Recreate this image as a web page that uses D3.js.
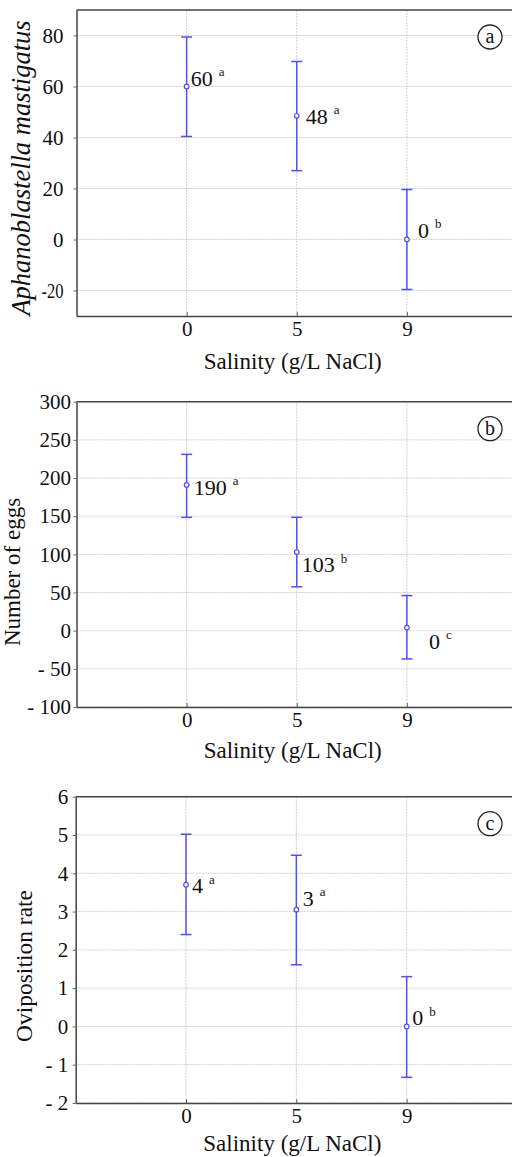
<!DOCTYPE html>
<html>
<head>
<meta charset="utf-8">
<script src="https://cdn.jsdelivr.net/npm/d3@7"></script>
</head>
<body style="margin:0">
<svg id="chart"></svg>
<script>
var salinity = ['0', '5', '9'];

// (a) Aphanoblastella mastigatus
var parasitoidMean = [60, 48.5, 0];
var parasitoidUpper = [79.4, 69.8, 19.6];
var parasitoidLower = [40.4, 27, -19.6];
var parasitoidLabel = ['60', '48', '0'];
var parasitoidGroup = ['a', 'a', 'b'];
var parasitoidTicks = [-20, 0, 20, 40, 60, 80];

// (b) number of eggs
var eggMean = [191, 103, 4];
var eggUpper = [231, 148.5, 46];
var eggLower = [148.5, 57.5, -37];
var eggLabel = ['190', '103', '0'];
var eggGroup = ['a', 'b', 'c'];
var eggTicks = [-100, -50, 0, 50, 100, 150, 200, 250, 300];

// (c) oviposition rate
var rateMean = [3.7, 3.05, 0];
var rateUpper = [5.02, 4.47, 1.3];
var rateLower = [2.4, 1.61, -1.33];
var rateLabel = ['4', '3', '0'];
var rateGroup = ['a', 'a', 'b'];
var rateTicks = [-2, -1, 0, 1, 2, 3, 4, 5, 6];

var blue = '#4f4fff';
var face = 'Liberation Serif';
var svg = d3.select('#chart').attr('width', 512).attr('height', 1157).style('font-family', face);

var spacedMinus = function(d) { return d < 0 ? '- ' + (-d) : String(d); };

var drawPanel = function(p) {
    var x = d3.scalePoint().domain(salinity).range([p.left, 517]).padding(1);
    var y = d3.scaleLinear().domain(p.domain).range([p.bottom, p.top]);
    var g = svg.append('g');

    g.selectAll('.hgrid').data(p.ticks.filter(function(t) { return y(t) > p.top + 1; })).enter().append('line')
        .attr('x1', p.left).attr('x2', 517).attr('y1', function(d) { return y(d); }).attr('y2', function(d) { return y(d); })
        .style('stroke', '#cfcfcf').style('stroke-dasharray', '2,1');
    g.selectAll('.vgrid').data(salinity).enter().append('line')
        .attr('x1', function(d) { return x(d); }).attr('x2', function(d) { return x(d); })
        .attr('y1', p.top).attr('y2', p.bottom)
        .style('stroke', '#cfcfcf').style('stroke-dasharray', '2,1');

    var ya = g.append('g').attr('transform', 'translate(' + p.left + ',0)')
        .call(d3.axisLeft(y).tickValues(p.ticks).tickFormat(p.fmt).tickSize(3).tickSizeOuter(0).tickPadding(p.tickPad));
    var xa = g.append('g').attr('transform', 'translate(0,' + p.bottom + ')')
        .call(d3.axisBottom(x).tickSize(-4).tickSizeOuter(0).tickPadding(5));
    [ya, xa].forEach(function(a) {
        a.attr('font-family', null).attr('font-size', null);
        a.select('.domain').style('stroke', '#444').style('stroke-width', 1.5);
        a.selectAll('.tick line').style('stroke', '#666');
        a.selectAll('.tick text').style('font-family', face).style('font-size', '21px').style('fill', '#111');
    });
    if (p.squeezeNeg) {
        // the plain hyphenated label is set tight in the original
        ya.selectAll('.tick text').filter(function(d) { return d < 0; })
            .attr('textLength', 22).attr('lengthAdjust', 'spacingAndGlyphs');
    }
    g.append('line').attr('x1', p.left).attr('x2', 517).attr('y1', p.top).attr('y2', p.top)
        .style('stroke', '#444').style('stroke-width', 1.5);

    var idx = d3.range(salinity.length);
    g.selectAll('.bar').data(idx).enter().append('line')
        .attr('x1', function(i) { return x(salinity[i]); }).attr('x2', function(i) { return x(salinity[i]); })
        .attr('y1', function(i) { return y(p.lower[i]); }).attr('y2', function(i) { return y(p.upper[i]); })
        .style('stroke', blue).style('stroke-width', 1.5);
    ['upper', 'lower'].forEach(function(k) {
        g.selectAll('.cap-' + k).data(idx).enter().append('line')
            .attr('x1', function(i) { return x(salinity[i]) - 5.5; }).attr('x2', function(i) { return x(salinity[i]) + 5.5; })
            .attr('y1', function(i) { return y(p[k][i]); }).attr('y2', function(i) { return y(p[k][i]); })
            .style('stroke', blue).style('stroke-width', 1.5);
    });
    g.selectAll('.pt').data(idx).enter().append('circle')
        .attr('cx', function(i) { return x(salinity[i]); }).attr('cy', function(i) { return y(p.mean[i]); })
        .attr('r', 2.3).style('fill', '#fff').style('stroke', blue).style('stroke-width', 1.2);

    var lab = g.selectAll('.lab').data(idx).enter().append('text')
        .attr('x', function(i) { return x(salinity[i]) + p.nudge[i][0]; })
        .attr('y', function(i) { return y(p.mean[i]) + p.nudge[i][1]; })
        .style('font-family', face).style('font-size', '22px').style('fill', '#111');
    lab.append('tspan').text(function(i) { return p.label[i]; });
    lab.append('tspan').style('font-size', '13px').attr('dx', 6).attr('dy', -9.5).text(function(i) { return p.group[i]; });

    g.append('circle').attr('cx', 490).attr('cy', p.top + 27).attr('r', 12)
        .style('fill', '#fff').style('stroke', '#222').style('stroke-width', 1.3);
    g.append('text').attr('x', 490).attr('y', p.top + 27).attr('dy', '0.3em').attr('text-anchor', 'middle')
        .style('font-family', face).style('font-size', '20px').style('fill', '#111').text(p.letter);

    g.append('text').attr('transform', 'translate(' + p.titleX + ',' + p.titleY + ') rotate(-90)')
        .attr('text-anchor', 'middle').style('font-family', face).style('font-size', p.titleSize + 'px').style('fill', '#111')
        .style('font-style', p.italic ? 'italic' : 'normal')
        .text(p.title);
    g.append('text').attr('x', x('5') - 4).attr('y', p.bottom + p.xTitleGap).attr('text-anchor', 'middle')
        .style('font-family', face).style('font-size', '23px').style('fill', '#111').text('Salinity (g/L NaCl)');
};

drawPanel({
    mean: parasitoidMean, upper: parasitoidUpper, lower: parasitoidLower,
    label: parasitoidLabel, group: parasitoidGroup, ticks: parasitoidTicks,
    domain: [-30, 90], top: 10, bottom: 316, left: 76.5, tickPad: 10, squeezeNeg: true,
    fmt: function(d) { return String(d); },
    nudge: [[4, -1], [9, 8], [11, -2]],
    letter: 'a', title: 'Aphanoblastella mastigatus', italic: true, titleSize: 26.5, titleX: 30, titleY: 168,
    xTitleGap: 53
});
drawPanel({
    mean: eggMean, upper: eggUpper, lower: eggLower,
    label: eggLabel, group: eggGroup, ticks: eggTicks,
    domain: [-100, 300], top: 401.7, bottom: 707, left: 76.5, tickPad: 2.5,
    fmt: spacedMinus,
    nudge: [[7, 10], [5, 20], [22, 21]],
    letter: 'b', title: 'Number of eggs', italic: false, titleSize: 23, titleX: 20, titleY: 572,
    xTitleGap: 51
});
drawPanel({
    mean: rateMean, upper: rateUpper, lower: rateLower,
    label: rateLabel, group: rateGroup, ticks: rateTicks,
    domain: [-2, 6], top: 796.7, bottom: 1103, left: 75.7, tickPad: 4.4,
    fmt: spacedMinus,
    nudge: [[6, 8.7], [6.4, -3.7], [5.6, -1]],
    letter: 'c', title: 'Oviposition rate', italic: false, titleSize: 23.5, titleX: 32, titleY: 966,
    xTitleGap: 48
});
</script>
</body>
</html>
